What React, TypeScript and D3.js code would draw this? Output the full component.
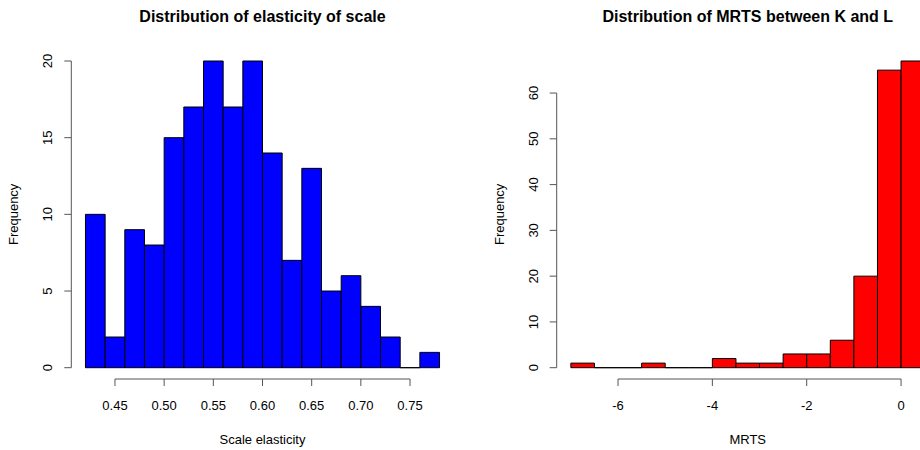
import React from "react";
import * as d3 from "d3";

const scaleBreaks = [0.42, 0.44, 0.46, 0.48, 0.5, 0.52, 0.54, 0.56, 0.58, 0.6, 0.62, 0.64, 0.66, 0.68, 0.7, 0.72, 0.74, 0.76, 0.78];
const scaleCounts = [10, 2, 9, 8, 15, 17, 20, 17, 20, 14, 7, 13, 5, 6, 4, 2, 0, 1];
const scaleXTicks = [0.45, 0.5, 0.55, 0.6, 0.65, 0.7, 0.75];
const scaleYTicks = [0, 5, 10, 15, 20];

const mrtsBreaks = [-7, -6.5, -6, -5.5, -5, -4.5, -4, -3.5, -3, -2.5, -2, -1.5, -1, -0.5, 0, 0.5];
const mrtsCounts = [1, 0, 0, 1, 0, 0, 2, 1, 1, 3, 3, 6, 20, 65, 67];
const mrtsXTicks = [-6, -4, -2, 0];
const mrtsYTicks = [0, 10, 20, 30, 40, 50, 60];

const FONT = "'Liberation Sans', Arial, Helvetica, sans-serif";

type HistProps = {
  breaks: number[];
  counts: number[];
  xTicks: number[];
  yTicks: number[];
  xDomain: [number, number];
  yMax: number;
  left: number;
  right: number;
  fill: string;
  title: string;
  xLabel: string;
  xFmt: (v: number) => string;
};

function Hist(p: HistProps) {
  const top = 61;
  const bottom = 367.7;
  const x = d3.scaleLinear().domain(p.xDomain).range([p.left, p.right]);
  const y = d3.scaleLinear().domain([0, p.yMax]).range([bottom, top]);
  const axisY = 379;
  const yAxisX = p.left;
  const cx = (p.left + p.right) / 2;
  const xt0 = x(p.xTicks[0]);
  const xt1 = x(p.xTicks[p.xTicks.length - 1]);
  const yt0 = y(p.yTicks[0]);
  const yt1 = y(p.yTicks[p.yTicks.length - 1]);
  return (
    <g fontFamily={FONT}>
      <text x={cx} y={22} textAnchor="middle" fontWeight="bold" fontSize={16}>
        {p.title}
      </text>
      {p.counts.map((c, i) => {
        const x0 = x(p.breaks[i]);
        const x1 = x(p.breaks[i + 1]);
        const yy = y(c);
        return (
          <path
            key={i}
            d={`M${x0},${bottom}V${yy}H${x1}V${bottom}Z`}
            fill={p.fill}
            stroke="#000"
            strokeWidth={1}
          />
        );
      })}
      {/* x axis */}
      <line x1={xt0} x2={xt1} y1={axisY} y2={axisY} stroke="#555" strokeWidth={1} />
      {p.xTicks.map((t) => (
        <g key={t}>
          <line x1={x(t)} x2={x(t)} y1={axisY} y2={axisY + 7} stroke="#555" />
          <text x={x(t)} y={410} textAnchor="middle" fontSize={13}>
            {p.xFmt(t)}
          </text>
        </g>
      ))}
      <text x={cx} y={444} textAnchor="middle" fontSize={13}>
        {p.xLabel}
      </text>
      {/* y axis */}
      <line x1={yAxisX} x2={yAxisX} y1={yt0} y2={yt1} stroke="#555" strokeWidth={1} />
      {p.yTicks.map((t) => (
        <g key={t}>
          <line x1={yAxisX - 7} x2={yAxisX} y1={y(t)} y2={y(t)} stroke="#555" />
          <text
            transform={`translate(${yAxisX - 19},${y(t)}) rotate(-90)`}
            textAnchor="middle"
            fontSize={13}
          >
            {String(t)}
          </text>
        </g>
      ))}
      <text
        transform={`translate(${yAxisX - 53},${(top + bottom) / 2}) rotate(-90)`}
        textAnchor="middle"
        fontSize={13}
      >
        Frequency
      </text>
    </g>
  );
}

export default function App() {
  return (
    <svg
      width={920}
      height={450}
      style={{ position: "absolute", left: 0, top: 0, background: "#fff" }}
    >
      <rect width={920} height={450} fill="#fff" />
      <Hist
        breaks={scaleBreaks}
        counts={scaleCounts}
        xTicks={scaleXTicks}
        yTicks={scaleYTicks}
        xDomain={[0.4056, 0.7944]}
        yMax={20}
        left={71.3}
        right={453.7}
        fill="#0000FF"
        title="Distribution of elasticity of scale"
        xLabel="Scale elasticity"
        xFmt={(v) => d3.format(".2f")(v)}
      />
      <Hist
        breaks={mrtsBreaks}
        counts={mrtsCounts}
        xTicks={mrtsXTicks}
        yTicks={mrtsYTicks}
        xDomain={[-7.3, 0.8]}
        yMax={67}
        left={556.7}
        right={938.8}
        fill="#FF0000"
        title="Distribution of MRTS between K and L"
        xLabel="MRTS"
        xFmt={(v) => String(v)}
      />
    </svg>
  );
}
